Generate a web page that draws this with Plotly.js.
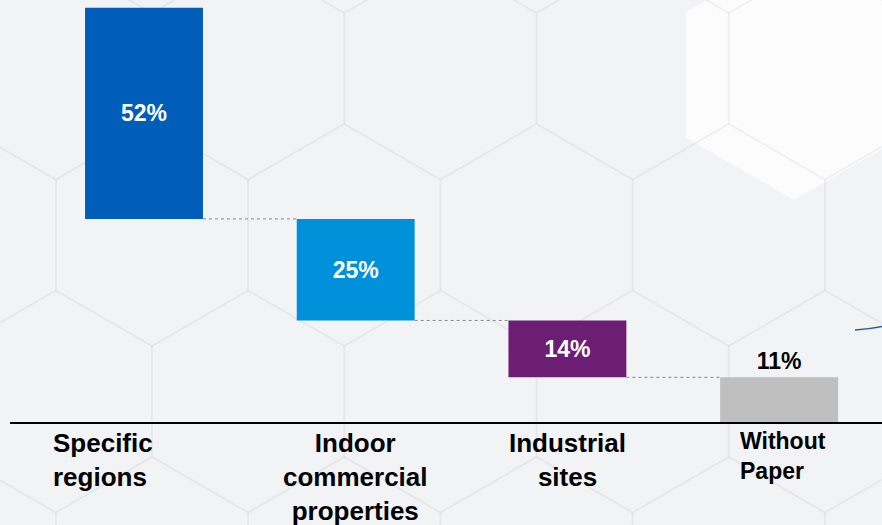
<!DOCTYPE html>
<html><head><meta charset="utf-8">
<script src="https://cdn.plot.ly/plotly-3.0.1.min.js"></script>
<style>html,body{margin:0;padding:0;background:#F2F3F5;}#chart{width:882px;height:525px;}</style>
</head><body><div id="chart"></div>
<script>
// ---- data ----
const categories = ["Specific regions", "Indoor commercial properties", "Industrial sites", "Without Paper"];
const categoryLabels = ["Specific<br>regions", "Indoor<br>commercial<br>properties", "Industrial<br>sites", "Without<br>Paper"];
const shares = [52, 25, 14, 11];
const valueLabels = ["52%", "25%", "14%", "11%"];
const barColors = ["#005EB8", "#0091DA", "#6C1D74", "#BFBFBF"];

// ---- derived waterfall bases ----
const total = shares.reduce((a, b) => a + b, 0);
const bases = [];
let run = total;
shares.forEach(v => { run -= v; bases.push(run); });
const xIdx = shares.map((_, i) => i);
const BW = 0.557;
const FONT = "Liberation Sans, Arial, Helvetica, sans-serif";

// ---- page geometry helpers (for decorative background) ----
const ML = 10, PW = 872, PT = 0, PH = 422;
const px2x = p => (p - ML) / PW;
const py2y = p => (PT + PH - p) / PH;

const shapes = [];
// bright white hexagon top-right
{
  const cx = 794, cy = 75, RR = 125;
  let d = "";
  for (let j = 0; j < 6; j++) {
    const th = (30 + 60 * j) * Math.PI / 180;
    d += (j === 0 ? "M" : "L") + px2x(cx + RR * Math.cos(th)).toFixed(4) + "," + py2y(cy + RR * Math.sin(th)).toFixed(4);
  }
  d += "Z";
  shapes.push({type: "path", xref: "paper", yref: "paper", path: d, layer: "below",
    fillcolor: "rgba(255,255,255,0.75)", line: {width: 0}});
}
// very faint hexagon grid in background
const R = 111, DX = Math.sqrt(3) * R, DY = 1.5 * R;
for (let r = -1; r <= 4; r++) {
  const cy = 235 + (r - 1) * DY;
  const off = (Math.abs(r % 2) === 1) ? 0 : DX / 2;
  for (let k = -2; k <= 6; k++) {
    const cx = 152 + k * DX - off;
    let d = "";
    for (let j = 0; j < 6; j++) {
      const th = (30 + 60 * j) * Math.PI / 180;
      const vx = cx + R * Math.cos(th), vy = cy + R * Math.sin(th);
      d += (j === 0 ? "M" : "L") + px2x(vx).toFixed(4) + "," + py2y(vy).toFixed(4);
    }
    d += "Z";
    shapes.push({type: "path", xref: "paper", yref: "paper", path: d, layer: "below",
      line: {color: "rgba(0,0,0,0.022)", width: 2}});
  }
}
// small blue stroke at right edge
shapes.push({type: "path", xref: "paper", yref: "paper", layer: "below",
  path: "M" + px2x(855).toFixed(4) + "," + py2y(330).toFixed(4) + " Q" + px2x(870).toFixed(4) + "," + py2y(329).toFixed(4) + " " + px2x(884).toFixed(4) + "," + py2y(326).toFixed(4),
  line: {color: "#2B5BA8", width: 1.5}});

// dotted connectors between bars (from data)
for (let i = 0; i < shares.length - 1; i++) {
  shapes.push({type: "line", xref: "x", yref: "y",
    x0: xIdx[i] + BW / 2, x1: xIdx[i + 1] - BW / 2, y0: bases[i], y1: bases[i],
    line: {color: "#8A8A8A", width: 1, dash: "dot"}});
}

// category labels as annotations
const labelSizes = [26, 26, 26, 23];
const labelAlign = ["left", "center", "center", "left"];
const labelShift = [-41, 0, 0, 4];
const annotations = categoryLabels.map((t, i) => ({
  x: xIdx[i], y: 0, xref: "x", yref: "paper", yanchor: "top", xanchor: "center",
  xshift: labelShift[i], yshift: -4, text: "<b>" + t + "</b>", showarrow: false,
  align: labelAlign[i], font: {family: FONT, size: labelSizes[i], color: "#000000"}
}));

const trace = {
  type: "bar",
  x: xIdx,
  y: shares,
  base: bases,
  width: BW,
  marker: {color: barColors, line: {width: 0}},
  text: valueLabels.map(t => "<b>" + t + "</b>"),
  textposition: ["inside", "inside", "inside", "outside"],
  insidetextanchor: "middle",
  constraintext: "none",
  textfont: {family: FONT, size: 23, color: ["#FFFFFF", "#FFFFFF", "#FFFFFF", "#000000"]},
  cliponaxis: false,
  hoverinfo: "skip",
  customdata: categories
};

const layout = {
  width: 882, height: 525,
  margin: {l: ML, r: 0, t: PT, b: 525 - PH - PT},
  paper_bgcolor: "#F2F3F5",
  plot_bgcolor: "rgba(0,0,0,0)",
  showlegend: false,
  xaxis: {range: [-0.633, 3.486], showticklabels: false, showgrid: false, zeroline: false,
    showline: true, linecolor: "#000000", linewidth: 1.5, ticks: "", fixedrange: true},
  yaxis: {range: [0, 103.9], visible: false, showgrid: false, zeroline: false, fixedrange: true},
  shapes: shapes,
  annotations: annotations,
  font: {family: FONT}
};

Plotly.newPlot("chart", [trace], layout, {displayModeBar: false, staticPlot: true});
</script>
</body></html>
